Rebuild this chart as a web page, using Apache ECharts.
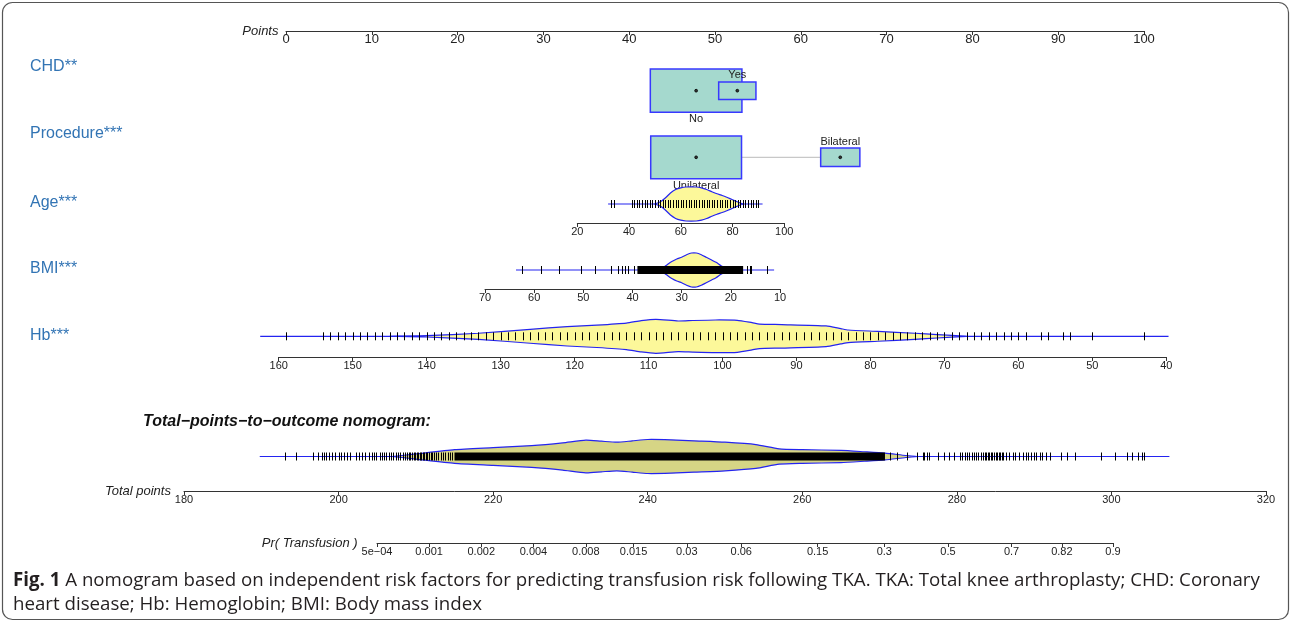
<!DOCTYPE html>
<html><head><meta charset="utf-8">
<script src="https://cdn.jsdelivr.net/npm/echarts@6/dist/echarts.min.js"></script>
<style>html,body{margin:0;padding:0;background:#fff}#c{width:1292px;height:624px}</style>
</head><body><div id="c"></div>
<script>
// ================= DATA =================
const pointsRange = [0, 100];
const rowLabels = ['CHD**', 'Procedure***', 'Age***', 'BMI***', 'Hb***'];

const chdLevels = ['No', 'Yes'];
const chdPoints = [47.8, 52.6];
const chdFreq = [0.858, 0.142];

const procLevels = ['Unilateral', 'Bilateral'];
const procPoints = [47.8, 64.6];
const procFreq = [0.843, 0.157];

const ageAxis = [20, 100];
const ageRange = [31.9, 91.6];
const ageTicks = [33,34,41,42,43,44,45,46,47,48,49,50,51,52,53,54,55,56,57,58,59,60,61,62,63,64,65,66,67,68,69,70,71,72,73,74,75,76,77,78,79,80,81,82,83,84,85,86,87,88,89,90];
const ageDens = [[50,0],[52,0.12],[54,0.35],[56,0.65],[58,0.85],[60,0.95],[62,1.0],[66,1.0],[68,0.95],[70,0.85],[72,0.72],[74,0.6],[76,0.5],[78,0.38],[80,0.25],[82,0.12],[84,0]];

const bmiAxis = [10, 70];
const bmiRange = [63.7, 11.2];
const bmiTicks = [62.5,58.6,55.0,50.5,47.6,44.4,42.9,42.2,41.5,40.9,39.7,16.8,16.2,15.8,12.7];
const bmiBand = [39.0, 17.5];
const bmiDens = [[35,0],[34,0.1],[33,0.3],[32,0.5],[31,0.65],[30,0.75],[29,0.9],[28,1.0],[27,1.0],[26,0.9],[25,0.75],[24,0.6],[23,0.45],[22,0.25],[21,0.1],[20,0]];

const hbAxis = [40, 160];
const hbRange = [162.5, 39.7];
const hbTicks = [159,154,153,152,151,150,149,148,147,146,145,144,143,142,141,140,139,138,137,136,135,134,133,132,131,130,129,128,127,126,125,124,123,122,121,120,119,118,117,116,115,114,113,112,111,110,109,108,107,106,105,104,103,102,101,100,99,98,97,96,95,94,93,92,91,90,89,88,87,86,85,84,83,82,81,80,79,78,77,76,75,74,73,72,71,70,69,68,67,66,65,64,63,62,61,60,59,57,56,54,53,50,43];
const hbDens = [[145,0],[140,0.04],[133,0.18],[126,0.41],[121,0.57],[117,0.66],[113,0.78],[111,0.92],[109,1.0],[106,0.9],[104,0.93],[101,0.96],[98,0.94],[96,0.8],[95,0.72],[92,0.69],[86,0.61],[84,0.45],[83,0.37],[79,0.29],[74,0.18],[71,0.1],[67,0]];

const totalAxis = [180, 320];
const totalRange = [189.8, 307.5];
const totalBand = [215, 270.7];
const totalTicks = [193.1,194.5,196.7,197.4,197.8,198.1,198.4,198.7,199.2,199.6,200.0,200.3,200.7,201.1,201.5,202.2,202.6,203.0,203.4,203.9,204.3,204.6,204.9,205.3,205.6,205.9,206.2,206.5,206.8,207.1,207.4,207.7,208.0,208.3,208.6,208.9,209.1,209.3,209.5,209.7,209.9,210.1,210.3,210.5,210.7,210.9,211.1,211.3,211.5,211.7,211.9,212.1,212.3,212.6,212.9,213.2,213.5,213.8,214.1,214.4,214.7,271.4,272.2,273.5,274.8,275.6,275.8,276.1,276.4,277.5,278.3,279.0,279.6,280.4,280.7,281.0,281.3,281.6,281.9,282.2,282.5,282.8,283.1,283.4,283.6,283.8,284.0,284.2,284.4,284.6,284.8,285.0,285.2,285.4,285.6,285.8,286.0,286.3,286.8,287.2,287.5,288.1,288.5,288.9,289.2,289.6,290.0,290.3,290.7,291.0,291.5,292.1,293.5,294.3,295.3,298.6,300.4,302.0,302.6,303.4,303.9,304.2];
const totalDens = [[207,0],[210,0.15],[215,0.4],[220,0.52],[225,0.64],[229,0.8],[232,0.96],[234,0.9],[236,0.84],[238,0.92],[240,1.0],[243,0.98],[246,0.92],[250,0.84],[254,0.7],[257,0.45],[260,0.4],[265,0.36],[268,0.28],[270.7,0.2],[273.4,0.06],[275,0]];

const prLabels = ['5e\u221204','0.001','0.002','0.004','0.008','0.015','0.03','0.06','0.15','0.3','0.5','0.7','0.82','0.9'];
const prValues = [0.0005,0.001,0.002,0.004,0.008,0.015,0.03,0.06,0.15,0.3,0.5,0.7,0.82,0.9];

const titleText = 'Total\u2212points\u2212to\u2212outcome nomogram:';
const captionLine1 = '{b|Fig. 1} A nomogram based on independent risk factors for predicting transfusion risk following TKA. TKA: Total knee arthroplasty; CHD: Coronary';
const captionLine2 = 'heart disease; Hb: Hemoglobin; BMI: Body mass index';

// ================= STYLE / LAYOUT =================
const FONT = "'Liberation Sans', Arimo, Arial, sans-serif";
const CAPFONT = "'Open Sans', sans-serif";
const BLUE = '#2424f0';
const BOXFILL = '#a5d9ce';
const YELLOW = '#fcf89a';
const OLIVE = '#d6d585';
const LABELBLUE = '#3274b4';
const VH = 17, TH = 4, BOXK = 98.9, BOXR = 2.12;
const logit = p => Math.log(p / (1 - p));
const prLogit = prValues.map(logit);

const grids = [
  {left: 286, width: 858, top: 10, height: 21},      // 0 points (axis y=31)
  {left: 577.3, width: 207, top: 185, height: 38},   // 1 age (axis 223)
  {left: 485, width: 295, top: 250, height: 39},     // 2 bmi (axis 289)
  {left: 278.7, width: 887.6, top: 315, height: 42}, // 3 hb (axis 357)
  {left: 184, width: 1082, top: 437, height: 54},    // 4 total (axis 491)
  {left: 377, width: 736, top: 529, height: 14}      // 5 pr (axis 543)
];

const axBase = {
  type: 'value', position: 'bottom', splitLine: {show: false},
  axisLine: {show: true, lineStyle: {color: '#333', width: 1}},
  axisTick: {show: true, length: 4, lineStyle: {color: '#333'}},
  axisLabel: {fontSize: 11, color: '#222', margin: 3, fontFamily: FONT, showMinLabel: true, showMaxLabel: true, hideOverlap: false},
  nameTextStyle: {fontStyle: 'italic', fontSize: 13, color: '#222', fontFamily: FONT}
};
function ax(o) { return Object.assign({}, JSON.parse(JSON.stringify(axBase)), o); }

const xAxes = [
  ax({gridIndex: 0, min: pointsRange[0], max: pointsRange[1], interval: 10, name: 'Points', nameLocation: 'start', nameGap: 7,
      axisLabel: Object.assign({}, axBase.axisLabel, {fontSize: 13, margin: 2})}),
  ax({gridIndex: 1, min: ageAxis[0], max: ageAxis[1], interval: 20}),
  ax({gridIndex: 2, min: bmiAxis[0], max: bmiAxis[1], interval: 10, inverse: true}),
  ax({gridIndex: 3, min: hbAxis[0], max: hbAxis[1], interval: 10, inverse: true}),
  ax({gridIndex: 4, min: totalAxis[0], max: totalAxis[1], interval: 20, name: 'Total points', nameLocation: 'start', nameGap: 4}),
  ax({gridIndex: 5, min: logit(prValues[0]), max: logit(prValues[prValues.length - 1]), name: 'Pr( Transfusion )', nameLocation: 'start', nameGap: 2,
      axisTick: {show: true, length: 4, lineStyle: {color: '#333'}, customValues: prLogit},
      axisLabel: Object.assign({}, axBase.axisLabel, {customValues: prLogit, formatter: v => {
        let best = 0; prLogit.forEach((l, i) => { if (Math.abs(l - v) < Math.abs(prLogit[best] - v)) best = i; });
        return prLabels[best];
      }})})
];
const yAxes = grids.map((g, i) => ({gridIndex: i, type: 'value', min: 0, max: 1, show: false}));

function distSeries(gi, cfg) {
  return {
    type: 'custom', xAxisIndex: gi, yAxisIndex: gi, clip: false, silent: true, data: [[0, 0]],
    renderItem: (params, api) => {
      const px = v => api.coord([v, 0])[0];
      const yc = cfg.yc, ch = [];
      ch.push({type: 'line', shape: {x1: px(cfg.range[0]), y1: yc, x2: px(cfg.range[1]), y2: yc}, style: {stroke: BLUE, lineWidth: 1.2}});
      const top = cfg.dens.map(d => [px(d[0]), yc - d[1] * VH]);
      const bot = cfg.dens.slice().reverse().map(d => [px(d[0]), yc + d[1] * VH]);
      ch.push({type: 'polygon', shape: {points: top.concat(bot), smooth: 0.2}, style: {fill: cfg.fill, stroke: BLUE, lineWidth: 1.2}});
      if (cfg.band) {
        const a = px(cfg.band[0]), b = px(cfg.band[1]);
        ch.push({type: 'rect', shape: {x: Math.min(a, b), y: yc - TH, width: Math.abs(b - a), height: 2 * TH}, style: {fill: '#000'}});
      }
      cfg.ticks.forEach(t => {
        const x = Math.round(px(t)) + 0.5;
        ch.push({type: 'line', shape: {x1: x, y1: yc - TH, x2: x, y2: yc + TH}, style: {stroke: '#000', lineWidth: 1}});
      });
      return {type: 'group', children: ch};
    }
  };
}

function catSeries(cfg) {
  return {
    type: 'custom', xAxisIndex: 0, yAxisIndex: 0, clip: false, silent: true, data: [[0, 0]],
    renderItem: (params, api) => {
      const px = v => api.coord([v, 0])[0];
      const yc = cfg.yc, ch = [];
      const xs = cfg.points.map(px);
      ch.push({type: 'line', shape: {x1: Math.min(...xs), y1: yc, x2: Math.max(...xs), y2: yc}, style: {stroke: '#bbbbbb', lineWidth: 1}});
      cfg.points.forEach((p, i) => {
        const w = BOXK * Math.sqrt(cfg.freq[i]), h = w / BOXR, x = xs[i];
        ch.push({type: 'rect', shape: {x: x - w / 2, y: yc - h / 2, width: w, height: h}, style: {fill: BOXFILL, stroke: '#3838ff', lineWidth: 1.5}});
        ch.push({type: 'circle', shape: {cx: x, cy: yc, r: 1.4}, style: {fill: '#333', stroke: '#000', lineWidth: 0.8}});
        const below = (i % 2 === 0);
        ch.push({type: 'text', style: {text: cfg.levels[i], x: x, y: below ? yc + h / 2 + 7 : yc - h / 2 - 6.5,
          align: 'center', verticalAlign: 'middle', fontSize: 11, fontFamily: FONT, fill: '#222'}});
      });
      return {type: 'group', children: ch};
    }
  };
}

const series = [
  catSeries({yc: 90.7, points: chdPoints, freq: chdFreq, levels: chdLevels}),
  catSeries({yc: 157.3, points: procPoints, freq: procFreq, levels: procLevels}),
  distSeries(1, {yc: 204, range: ageRange, dens: ageDens, ticks: ageTicks, fill: YELLOW}),
  distSeries(2, {yc: 270, range: bmiRange, dens: bmiDens, ticks: bmiTicks, band: bmiBand, fill: YELLOW}),
  distSeries(3, {yc: 336.3, range: hbRange, dens: hbDens, ticks: hbTicks, fill: YELLOW}),
  distSeries(4, {yc: 456.5, range: totalRange, dens: totalDens, ticks: totalTicks, band: totalBand, fill: OLIVE})
];

const rowLabelY = [67, 134, 203, 269, 336];
const graphic = [
  {type: 'rect', shape: {x: 2.5, y: 2.5, width: 1286, height: 617, r: 10}, style: {fill: 'none', stroke: '#555', lineWidth: 1.2}, silent: true},
  ...rowLabels.map((t, i) => ({type: 'text', x: 30, y: rowLabelY[i], style: {text: t, fontSize: 16, fontFamily: FONT, fill: LABELBLUE, verticalAlign: 'middle'}})),
  {type: 'text', x: 143, y: 422, style: {text: titleText, fontSize: 16, fontWeight: 'bold', fontStyle: 'italic', fontFamily: FONT, fill: '#111', verticalAlign: 'middle'}},
  {type: 'text', x: 13, y: 581, style: {text: captionLine1, fontSize: 18.7, fontFamily: CAPFONT, fill: '#231f20', verticalAlign: 'middle',
      rich: {b: {fontSize: 18.7, fontFamily: CAPFONT, fontWeight: 'bold', fill: '#231f20'}}}},
  {type: 'text', x: 13, y: 605, style: {text: captionLine2, fontSize: 18.7, fontFamily: CAPFONT, fill: '#231f20', verticalAlign: 'middle'}}
];

const chart = echarts.init(document.getElementById('c'), null, {renderer: 'canvas'});
chart.setOption({animation: false, backgroundColor: '#fff', grid: grids, xAxis: xAxes, yAxis: yAxes, series: series, graphic: graphic});
</script></body></html>
